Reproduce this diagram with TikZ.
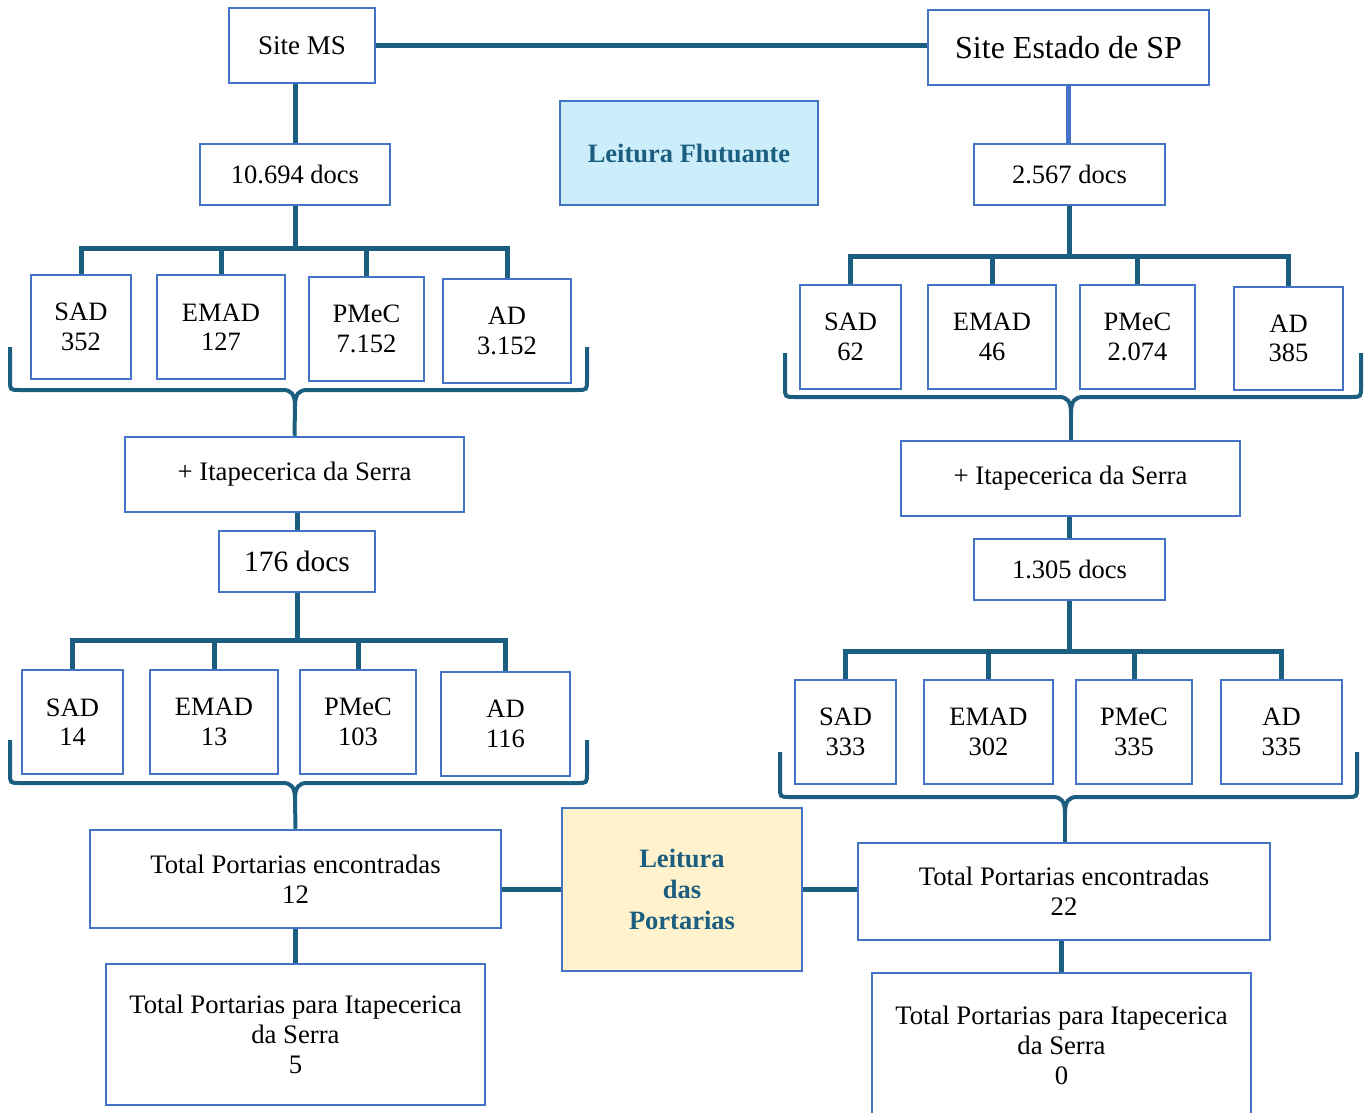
\documentclass[tikz,border=0pt]{standalone}
\usepackage{fontspec}
\setmainfont{Liberation Serif}
\definecolor{boxblue}{HTML}{4472C4}
\definecolor{conncol}{HTML}{1B5E80}
\definecolor{lblue}{HTML}{CCEEFB}
\definecolor{lyel}{HTML}{FFF2CC}
\newcommand\mybrace[6]{%
  \draw[br] (#1,#4) -- (#1,#5-10) .. controls (#1,#5) .. (#1+10,#5) -- (#3-12,#5)
     .. controls (#3-4,#5) and (#3,#5+4) .. (#3,#5+16);
  \draw[br] (#2,#4) -- (#2,#5-10) .. controls (#2,#5) .. (#2-10,#5) -- (#3+12,#5)
     .. controls (#3+4,#5) and (#3,#5+4) .. (#3,#5+16);
  \coordinate (#6) at (#3,#5+16);
}
\begin{document}
\begin{tikzpicture}[x=1pt,y=-1pt,
  box/.style={draw=boxblue,line width=2.5pt,fill=white,inner sep=0pt,align=center,
              font=\fontsize{26.7}{30}\selectfont},
  big/.style={font=\fontsize{29.5}{34}\selectfont},
  huge/.style={font=\fontsize{32}{36}\selectfont},
  mid/.style={font=\fontsize{26.5}{29.5}\selectfont},
  head/.style={box,text=conncol,font=\fontsize{26.5}{31}\selectfont\bfseries},
  cn/.style={draw=conncol,line width=5pt},
  br/.style={draw=conncol,line width=4pt},
]
\useasboundingbox (0,0) rectangle (1369,1112);

% ---- left column
\node[box,mid,font=\fontsize{27}{30}\selectfont,minimum width=146pt,minimum height=75pt] (ms) at (302,45.5) {Site MS};
\node[box,mid,minimum width=190pt,minimum height=61pt] (d1) at (295,174.5) {10.694 docs};
\node[box,mid,minimum width=100pt,minimum height=104pt] (sad1) at (81,327) {SAD\\352};
\node[box,mid,minimum width=128pt,minimum height=104pt] (emad1) at (221,327) {EMAD\\127};
\node[box,mid,minimum width=115pt,minimum height=104pt] (pmec1) at (366.5,329) {PMeC\\7.152};
\node[box,mid,minimum width=128pt,minimum height=104pt] (ad1) at (507,331) {AD\\3.152};
\node[box,minimum width=339pt,minimum height=75pt] (it1) at (294.5,474.5) {+ Itapecerica da Serra};
\node[box,big,minimum width=156pt,minimum height=61pt] (d2) at (297,561.5) {176 docs};
\node[box,mid,minimum width=101pt,minimum height=104pt] (sad2) at (72.5,722) {SAD\\14};
\node[box,mid,minimum width=128pt,minimum height=104pt] (emad2) at (214,722) {EMAD\\13};
\node[box,mid,minimum width=116pt,minimum height=104pt] (pmec2) at (358,722) {PMeC\\103};
\node[box,mid,minimum width=129pt,minimum height=104pt] (ad2) at (505.5,724) {AD\\116};
\node[box,minimum width=411pt,minimum height=98pt] (tp1) at (295.5,879) {Total Portarias encontradas\\12};
\node[box,minimum width=379pt,minimum height=141pt] (ti1) at (295.5,1034.5) {Total Portarias para Itapecerica\\da Serra\\5};

% ---- middle
\node[head,fill=lblue,minimum width=258pt,minimum height=104pt] (lf) at (689,153) {Leitura Flutuante};
\node[head,fill=lyel,minimum width=240pt,minimum height=163pt] (lp) at (682,889.5) {Leitura\\das\\Portarias};

% ---- right column
\node[box,huge,minimum width=281pt,minimum height=75pt] (sp) at (1068.5,47.5) {Site Estado de SP};
\node[box,mid,minimum width=191pt,minimum height=61pt] (d3) at (1069.5,174.5) {2.567 docs};
\node[box,mid,minimum width=101pt,minimum height=104pt] (sad3) at (850.5,337) {SAD\\62};
\node[box,mid,minimum width=128pt,minimum height=104pt] (emad3) at (992,337) {EMAD\\46};
\node[box,mid,minimum width=115pt,minimum height=104pt] (pmec3) at (1137.5,337) {PMeC\\2.074};
\node[box,mid,minimum width=109pt,minimum height=103pt] (ad3) at (1288.5,338.5) {AD\\385};
\node[box,minimum width=339pt,minimum height=75pt] (it2) at (1070.5,478.5) {+ Itapecerica da Serra};
\node[box,mid,minimum width=191pt,minimum height=61pt] (d4) at (1069.5,569.5) {1.305 docs};
\node[box,mid,minimum width=101pt,minimum height=104pt] (sad4) at (845.5,732) {SAD\\333};
\node[box,mid,minimum width=129pt,minimum height=104pt] (emad4) at (988.5,732) {EMAD\\302};
\node[box,mid,minimum width=116pt,minimum height=104pt] (pmec4) at (1134,732) {PMeC\\335};
\node[box,mid,minimum width=121pt,minimum height=104pt] (ad4) at (1281.5,732) {AD\\335};
\node[box,minimum width=412pt,minimum height=97pt] (tp2) at (1064,891.5) {Total Portarias encontradas\\22};
\node[box,minimum width=379pt,minimum height=144pt] (ti2) at (1061.5,1045) {Total Portarias para Itapecerica\\da Serra\\0};

% ---- connectors
\draw[cn] (ms.east) -- (ms.east -| sp.west);
\draw[cn] (d1.north) -- (d1.north |- ms.south);
\draw[cn,draw=boxblue] (sp.south) -- (sp.south |- d3.north);

\coordinate (b1) at (295,248);
\draw[cn] (d1.south) -- (b1);
\draw[cn] (sad1.north) |- (b1) -| (ad1.north);
\draw[cn] (emad1.north) -- (emad1.north |- b1);
\draw[cn] (pmec1.north) -- (pmec1.north |- b1);

\coordinate (b2) at (297,640);
\draw[cn] (d2.north) -- (d2.north |- it1.south);
\draw[cn] (d2.south) -- (b2);
\draw[cn] (sad2.north) |- (b2) -| (ad2.north);
\draw[cn] (emad2.north) -- (emad2.north |- b2);
\draw[cn] (pmec2.north) -- (pmec2.north |- b2);

\coordinate (b3) at (1069.5,256);
\draw[cn] (d3.south) -- (b3);
\draw[cn] (sad3.north) |- (b3) -| (ad3.north);
\draw[cn] (emad3.north) -- (emad3.north |- b3);
\draw[cn] (pmec3.north) -- (pmec3.north |- b3);

\coordinate (b4) at (1069.5,651);
\draw[cn] (d4.north) -- (d4.north |- it2.south);
\draw[cn] (d4.south) -- (b4);
\draw[cn] (sad4.north) |- (b4) -| (ad4.north);
\draw[cn] (emad4.north) -- (emad4.north |- b4);
\draw[cn] (pmec4.north) -- (pmec4.north |- b4);

% braces
\mybrace{10}{587}{295}{347}{390}{t1}
\draw[br] (t1) -- (it1.north);
\mybrace{10}{587}{295}{740}{783}{t2}
\draw[br] (t2) -- (tp1.north);
\mybrace{785}{1361}{1071}{353}{397}{t3}
\draw[br] (t3) -- (t3 |- it2.north);
\mybrace{780}{1357}{1065}{752}{797}{t4}
\draw[br] (t4) -- (t4 |- tp2.north);

\draw[cn] (lp.west) -- (lp.west -| tp1.east);
\draw[cn] (lp.east) -- (lp.east -| tp2.west);
\draw[cn] (tp1.south) -- (ti1.north);
\draw[cn] (ti2.north) -- (ti2.north |- tp2.south);
\end{tikzpicture}
\end{document}
